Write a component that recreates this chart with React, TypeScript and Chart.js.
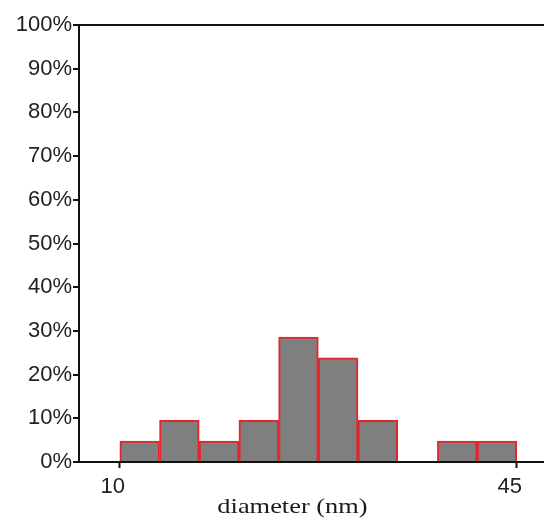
import React, { useEffect, useRef } from "react";
import { Chart, registerables } from "chart.js";

Chart.register(...registerables);

// Histogram bins (diameter, nm): start of each bin, width 3.5 nm
const binStarts = [10, 13.5, 17, 20.5, 24, 27.5, 31, 34.5, 38, 41.5];
const binWidth = 3.5;
// Counts per bin (total 21 particles)
const counts = [1, 2, 1, 2, 6, 5, 2, 0, 1, 1];
const xTickValues = [10, 45];
const yTickLabels = ["0%", "10%", "20%", "30%", "40%", "50%", "60%", "70%", "80%", "90%", "100%"];
const xTitle = "diameter (nm)";

// Axis title drawn slightly stretched and left of centre, as in the reference
const xTitlePlugin = {
  id: "xTitlePlugin",
  afterDraw(chart: any) {
    const ctx = chart.ctx as CanvasRenderingContext2D;
    const area = chart.chartArea;
    const cx = (area.left + area.right) / 2 - 19;
    const cy = chart.height - 12;
    ctx.save();
    ctx.font = "22px 'Liberation Serif'";
    ctx.fillStyle = "#1a1a1a";
    ctx.textAlign = "center";
    ctx.textBaseline = "middle";
    ctx.translate(cx, cy);
    ctx.scale(1.2, 1);
    ctx.fillText(xTitle, 0, 0);
    ctx.restore();
  },
};

export default function App() {
  const ref = useRef<HTMLCanvasElement | null>(null);

  useEffect(() => {
    if (!ref.current) return;
    const total = counts.reduce((a, b) => a + b, 0);
    const data = binStarts.map((s, i) => ({
      x: s + binWidth / 2,
      y: counts[i] === 0 ? null : (counts[i] / total) * 100,
    }));
    const chart = new Chart(ref.current, {
      type: "bar",
      data: {
        datasets: [
          {
            data: data as any,
            backgroundColor: "#7f7f7f",
            borderColor: "#e3262b",
            borderWidth: 2,
            barPercentage: 1,
            categoryPercentage: 1,
          },
        ],
      },
      plugins: [xTitlePlugin],
      options: {
        animation: false,
        responsive: false,
        maintainAspectRatio: false,
        layout: { padding: { top: 25, left: 0, right: 0, bottom: 0 } },
        plugins: { legend: { display: false }, tooltip: { enabled: false } },
        scales: {
          x: {
            type: "linear",
            min: 6.4,
            max: 47.4,
            offset: false,
            afterBuildTicks: (s: any) => {
              s.ticks = xTickValues.map((v) => ({ value: v }));
            },
            afterFit: (s: any) => {
              s.height = 57;
            },
            border: { display: true, color: "#111", width: 2 },
            grid: {
              offset: false,
              color: "rgba(0,0,0,0)",
              tickColor: "#111",
              tickLength: 6,
              tickWidth: 2,
            },
            ticks: {
              color: "#222",
              font: { family: "Liberation Sans", size: 22 },
              padding: 6,
              labelOffset: -7,
              maxRotation: 0,
              autoSkip: false,
              callback: (v: any) => String(v),
            },
            title: { display: false },
          },
          y: {
            type: "linear",
            min: 0,
            max: 100,
            afterFit: (s: any) => {
              s.width = 79;
            },
            border: { display: true, color: "#111", width: 2 },
            grid: {
              color: (ctx: any) => (ctx.tick && ctx.tick.value === 100 ? "#111" : "rgba(0,0,0,0)"),
              lineWidth: 2,
              tickColor: "#111",
              tickLength: 6,
              tickWidth: 2,
            },
            ticks: {
              stepSize: 10,
              color: "#222",
              font: { family: "Liberation Sans", size: 22 },
              padding: 1,
              callback: (v: any) => yTickLabels[Math.round(Number(v) / 10)] ?? "",
            },
          },
        },
      },
    });
    return () => chart.destroy();
  }, []);

  return (
    <div style={{ position: "fixed", left: 0, top: 0, width: 544, height: 519, background: "#fff" }}>
      <canvas ref={ref} width={544} height={519} style={{ width: 544, height: 519 }} />
    </div>
  );
}
